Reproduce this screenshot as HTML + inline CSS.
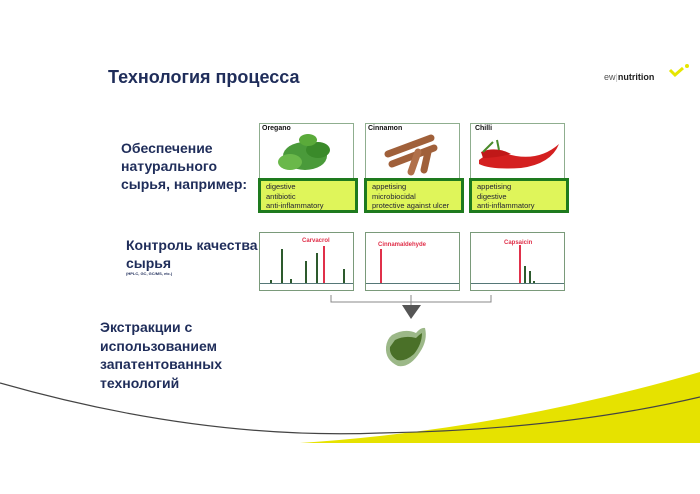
<!DOCTYPE html>
<html><head><meta charset="utf-8"><style>
body{margin:0;width:700px;height:494px;background:#fff;position:relative;overflow:hidden;font-family:"Liberation Sans","DejaVu Sans",sans-serif}
.a{position:absolute}
.t{color:#1f2d5a;font-weight:bold}
.img{position:absolute;border:1px solid #8fae8f;background:#fff;height:56px;width:93px}
.lab{position:absolute;left:2px;top:1px;font-size:7px;font-weight:bold;color:#111}
.g{position:absolute;background:#dff55a;border:3px solid #1e7a1e;width:89px;height:28px;font-size:7.5px;line-height:9.5px;padding:1px 0 0 5px;box-sizing:content-box;color:#223}
.ch{position:absolute;border:1px solid #7a9a7a;width:93px;height:57px;background:#fff}
.ch .base{position:absolute;left:0;right:0;bottom:6px;height:1px;background:#577}
.b{position:absolute;bottom:7px;width:1.5px;background:#2d5a2d}
.r{background:#e0304a}
.cn{position:absolute;font-size:6px;color:#e0304a;font-weight:bold}
</style></head><body>
<div class="a t" style="left:108px;top:67px;font-size:18px">Технология процесса</div>
<div class="a" style="left:604px;top:72px;font-size:9px;color:#555">ew<span style="color:#bbb">|</span><b style="color:#222">nutrition</b></div>
<svg class="a" style="left:668px;top:62px" width="22" height="16"><path d="M2 8 L7 13 L15 6" stroke="#e6e600" stroke-width="3" fill="none"/><circle cx="19" cy="4" r="2" fill="#e6e600"/></svg>

<div class="a t" style="left:121px;top:139px;font-size:14px;line-height:18px">Обеспечение<br>натурального<br>сырья, например:</div>
<div class="a t" style="left:126px;top:236px;font-size:14px;line-height:18px">Контроль качества<br>сырья</div>
<div class="a t" style="left:126px;top:271px;font-size:4px">(HPLC, GC, GC/MS, etc.)</div>
<div class="a t" style="left:100px;top:318px;font-size:14px;line-height:18.5px">Экстракции с<br>использованием<br>запатентованных<br>технологий</div>

<div class="img" style="left:259px;top:123px"><span class="lab">Oregano</span>
<svg width="93" height="56"><g fill="#4a9a3a"><ellipse cx="45" cy="32" rx="22" ry="14"/><ellipse cx="30" cy="38" rx="12" ry="8" fill="#6ab84a"/><ellipse cx="58" cy="26" rx="12" ry="8" fill="#3a8a2a"/><ellipse cx="48" cy="16" rx="9" ry="6" fill="#5aaa3a"/></g></svg></div>
<div class="g" style="left:258px;top:178px">digestive<br>antibiotic<br>anti-inflammatory</div>

<div class="img" style="left:365px;top:123px"><span class="lab">Cinnamon</span>
<svg width="93" height="56"><g stroke="#a0603a" stroke-width="7" stroke-linecap="round"><line x1="22" y1="30" x2="65" y2="14"/><line x1="26" y1="40" x2="68" y2="24"/><line x1="45" y1="48" x2="52" y2="28" stroke="#b0704a"/><line x1="58" y1="46" x2="62" y2="28"/></g></svg></div>
<div class="g" style="left:364px;top:178px">appetising<br>microbiocidal<br>protective against ulcer</div>

<div class="img" style="left:470px;top:123px"><span class="lab">&nbsp;Chilli</span>
<svg width="93" height="56"><path d="M8 36 Q20 26 45 32 Q70 36 88 20 Q80 40 50 44 Q20 46 8 40Z" fill="#d42020"/><path d="M10 28 Q25 22 40 30 Q25 34 12 34Z" fill="#c01818"/><path d="M12 28 L22 18 M28 26 L26 16" stroke="#4a8a2a" stroke-width="2"/></svg></div>
<div class="g" style="left:469px;top:178px">appetising<br>digestive<br>anti-inflammatory</div>

<div class="ch" style="left:259px;top:232px"><div class="base"></div>
<div class="cn" style="left:42px;top:5px">Carvacrol</div>
<div class="b" style="left:21px;height:34px"></div><div class="b" style="left:45px;height:22px"></div><div class="b" style="left:56px;height:30px"></div><div class="b r" style="left:63px;height:37px"></div><div class="b" style="left:83px;height:14px"></div><div class="b" style="left:30px;height:4px"></div><div class="b" style="left:10px;height:3px"></div></div>
<div class="ch" style="left:365px;top:232px"><div class="base"></div>
<div class="cn" style="left:12px;top:9px">Cinnamaldehyde</div>
<div class="b r" style="left:14px;height:34px"></div></div>
<div class="ch" style="left:470px;top:232px"><div class="base"></div>
<div class="cn" style="left:33px;top:7px">Capsaicin</div>
<div class="b r" style="left:48px;height:38px"></div><div class="b" style="left:53px;height:17px"></div><div class="b" style="left:58px;height:12px"></div><div class="b" style="left:62px;height:2px"></div></div>

<svg class="a" style="left:0;top:0" width="700" height="494">
<path d="M331 295 V302 H491 V295 M411 295 V308" stroke="#888" stroke-width="1" fill="none"/>
<path d="M402 305 L421 305 L411 319Z" fill="#555"/>
<path d="M392 335 Q405 328 416 333 Q421 327 425 328 Q428 340 420 352 Q410 368 398 366 Q385 360 386 347 Q387 339 392 335Z" fill="#9cb888"/>
<path d="M395 340 Q405 335 416 338 Q420 334 422 333 Q422 344 414 354 Q405 362 397 360 Q389 355 390 347Z" fill="#4a7028"/>
<path d="M300 443 Q500 430 700 372 L700 443Z" fill="#e6e200"/>
<path d="M0 383 Q200 440 380 433 Q560 430 700 397" stroke="#444" stroke-width="1.2" fill="none"/>
</svg>
</body></html>
